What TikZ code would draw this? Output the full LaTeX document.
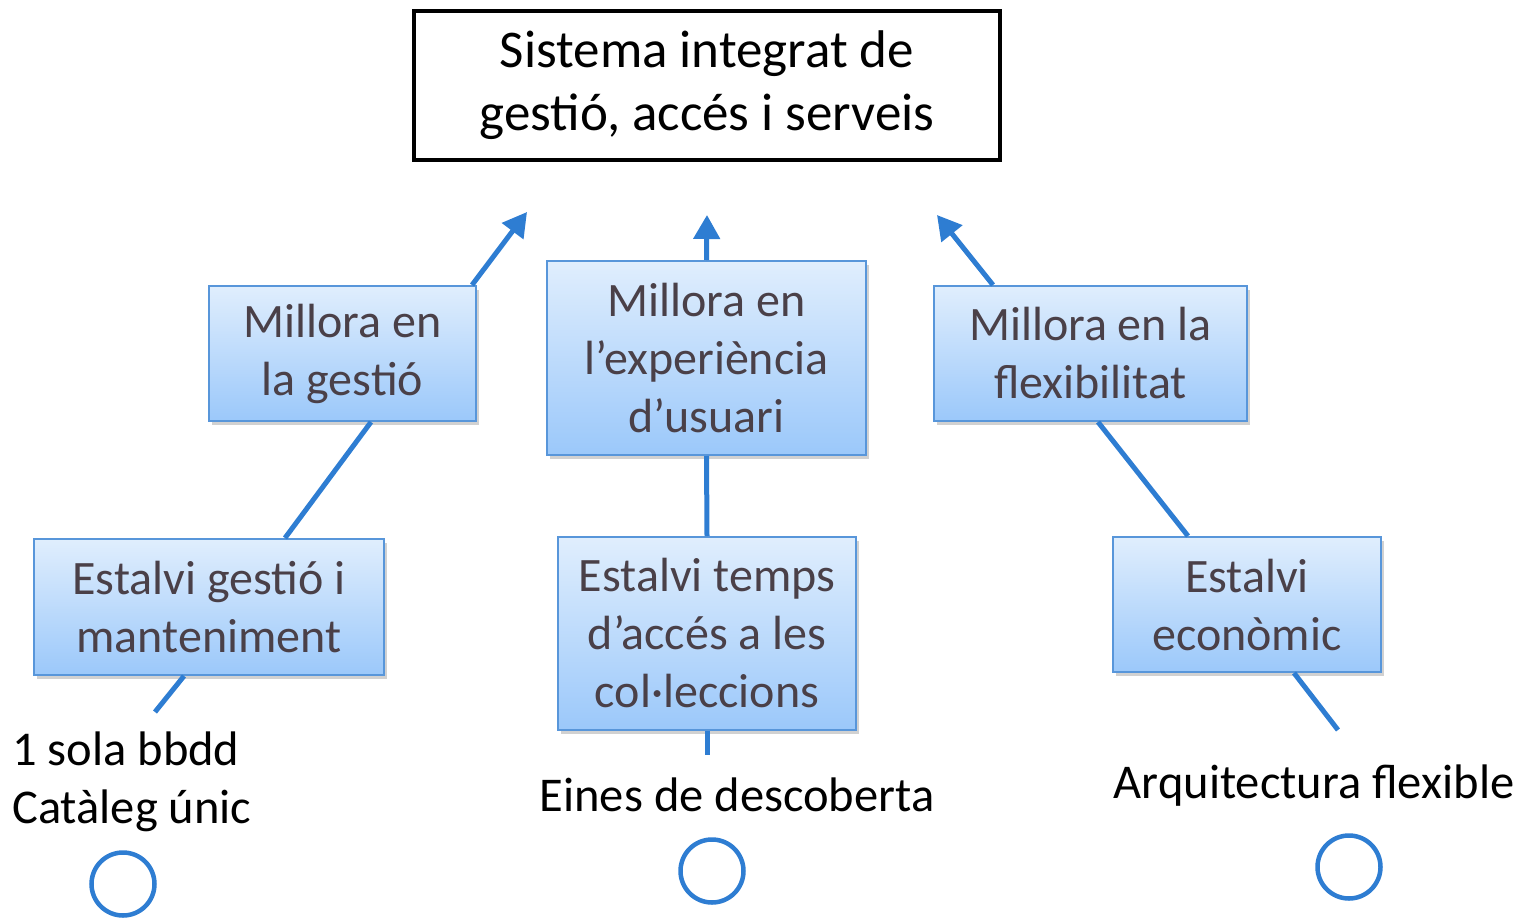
\documentclass[tikz,border=0pt]{standalone}
\usepackage{fontspec}
\setmainfont{Carlito}
\usetikzlibrary{arrows.meta,shadows}

\definecolor{linkblue}{RGB}{46,125,210}
\definecolor{boxtop}{RGB}{224,238,253}
\definecolor{boxbot}{RGB}{155,200,250}
\definecolor{boxline}{RGB}{88,150,218}
\definecolor{boxtext}{RGB}{74,64,72}

\begin{document}
\begin{tikzpicture}[x=1pt,y=-1pt,
    goal/.style={draw=boxline,line width=2pt,top color=boxtop,bottom color=boxbot,
        text=boxtext,align=center,inner sep=0pt,font=\fontsize{48}{58}\selectfont,
        drop shadow={shadow xshift=3pt,shadow yshift=-4pt,opacity=0.3,fill=black!60}},
    link/.style={draw=linkblue,line width=5pt},
    up/.style={link,-{Triangle[length=24pt,width=26pt]}},
    means/.style={inner sep=0pt,align=left,font=\fontsize{48.5}{58}\selectfont},
    ring/.style={circle,draw=linkblue,line width=4.5pt,minimum size=63pt,inner sep=0pt}
                   ]
    \useasboundingbox (0,0) rectangle (1529,921);

    \node[draw,line width=3.5pt,fill=white,minimum width=586pt,minimum height=149pt,
        align=center,font=\fontsize{53}{63}\selectfont](top) at (707,85.5)
        {Sistema integrat de\\gestió, accés i serveis};

    % millores
    \node[goal,minimum width=267pt,minimum height=135pt](mgest) at (342.5,353.5)
        {Millora en\\la gestió};
    \node[goal,minimum width=319pt,minimum height=194pt](mexp) at (706.5,358)
        {Millora en\\l’experiència\\d’usuari};
    \node[goal,minimum width=313pt,minimum height=135pt](mflex) at (1090.5,353.5)
        {Millora en la\\flexibilitat};

    % estalvis
    \node[goal,minimum width=350pt,minimum height=136pt](egest) at (209,607)
        {Estalvi gestió i\\manteniment};
    \node[goal,minimum width=298pt,minimum height=193pt](etemps) at (707,633.5)
        {Estalvi temps\\d’accés a les\\col·leccions};
    \node[goal,minimum width=268pt,minimum height=135pt](eecon) at (1247,604.5)
        {Estalvi\\econòmic};

    % mitjans
    \node[means,anchor=west](bbdd) at (12,782) {1 sola bbdd\\Catàleg únic};
    \node[means](eines) at (737,795) {Eines de descoberta};
    \node[means](arq) at (1314,786) {Arquitectura flexible};

    \node[ring](r1) at (123,884) {};
    \node[ring](r2) at (712,871) {};
    \node[ring](r3) at (1349,867) {};

    \coordinate (tipA) at (527,212);
    \coordinate (tipB) at (707,215);
    \coordinate (tipC) at (937,215);
    \coordinate (endD) at (155,712);
    \coordinate (endE) at (707,755);
    \coordinate (endF) at (1338,730);

    \draw[up] ([xshift=129.5pt]mgest.north) -- (tipA);
    \draw[up] (mexp.north) -- (tipB);
    \draw[up] ([xshift=-97.5pt]mflex.north) -- (tipC);

    \draw[link] ([xshift=76pt]egest.north) -- ([xshift=28.5pt]mgest.south);
    \draw[link] (etemps.north) -- (mexp.south);
    \draw[link] ([xshift=-59pt]eecon.north) -- ([xshift=7.5pt]mflex.south);

    \draw[link] ([xshift=-25pt]egest.south) -- (endD);
    \draw[link] (etemps.south) -- (endE);
    \draw[link] ([xshift=47pt]eecon.south) -- (endF);

\end{tikzpicture}
\end{document}
